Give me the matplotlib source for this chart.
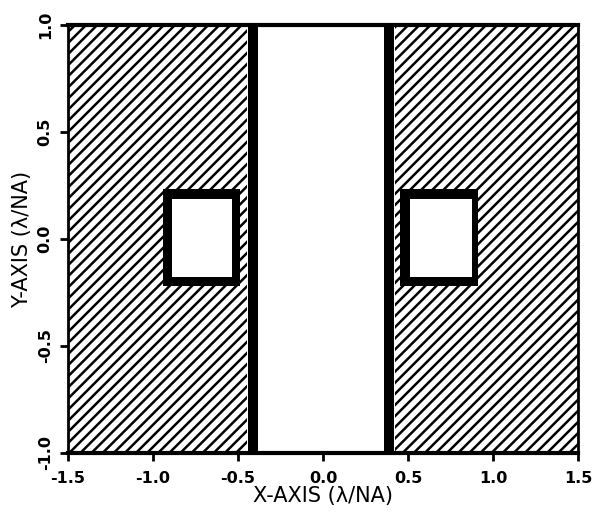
import matplotlib
matplotlib.use("Agg")
import matplotlib.pyplot as plt
from matplotlib.patches import Rectangle

# Mask layout (units of lambda/NA)
hatch_x = [(-1.5, -0.445), (0.425, 1.5)]        # shifter regions
bar_x = [(-0.44, -0.385), (0.36, 0.42)]         # opaque lines
square_outer_x = [(-0.94, -0.49), (0.453, 0.912)]
square_inner_x = [(-0.89, -0.535), (0.512, 0.876)]
square_outer_y = (-0.22, 0.235)
square_inner_y = (-0.178, 0.188)

x_ticks = [-1.5, -1.0, -0.5, 0.0, 0.5, 1.0, 1.5]
y_ticks = [-1.0, -0.5, 0.0, 0.5, 1.0]

plt.rcParams['hatch.linewidth'] = 1.8

fig = plt.figure(figsize=(6.03, 5.15), dpi=100)
ax = fig.add_axes([0.1128, 0.1204, 0.8457, 0.8311])

def rect(ax, xr, yr, **kw):
    ax.add_patch(Rectangle((xr[0], yr[0]), xr[1] - xr[0], yr[1] - yr[0], **kw))

for xr in hatch_x:
    rect(ax, xr, (-1.0, 1.0), facecolor='white', edgecolor='black',
         hatch='///', linewidth=0)
for xr in bar_x:
    rect(ax, xr, (-1.0, 1.0), facecolor='black', edgecolor='none')
for xo, xi in zip(square_outer_x, square_inner_x):
    rect(ax, xo, square_outer_y, facecolor='black', edgecolor='none')
    rect(ax, xi, square_inner_y, facecolor='white', edgecolor='none')

ax.set_xlim(-1.5, 1.5)
ax.set_ylim(-1.0, 1.0)
ax.set_xticks(x_ticks)
ax.set_yticks(y_ticks)
ax.set_xticklabels([f"{t:.1f}" for t in x_ticks], fontsize=11.5, fontweight='bold')
ax.set_yticklabels([f"{t:.1f}" for t in y_ticks], fontsize=11.5, fontweight='bold',
                   rotation=90, va='center')
ax.tick_params(axis='x', direction='out', length=6, width=2, pad=7)
ax.tick_params(axis='y', direction='out', length=6, width=2, pad=5)

for side in ['top', 'bottom']:
    ax.spines[side].set_linewidth(3)
for side in ['left', 'right']:
    ax.spines[side].set_linewidth(2)

ax.set_xlabel("X-AXIS (λ/NA)", fontsize=15, labelpad=0)
ax.set_ylabel("Y-AXIS (λ/NA)", fontsize=15, labelpad=4)

fig.savefig("out.png", dpi=100)
